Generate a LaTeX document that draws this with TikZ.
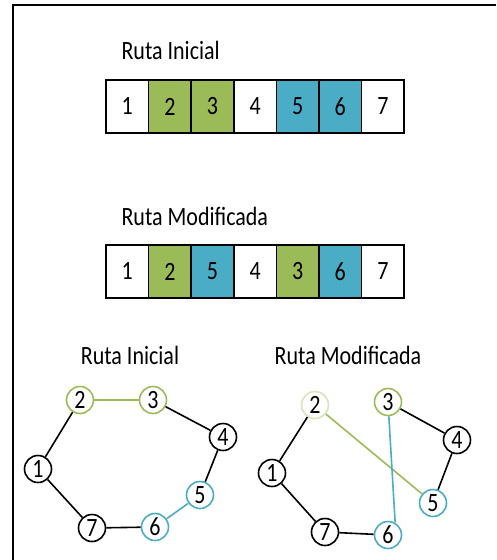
\documentclass[tikz,border=0pt]{standalone}
\usepackage{fontspec}
\setmainfont{Carlito}
\definecolor{rutagreen}{HTML}{9BBB59}
\definecolor{rutablue}{HTML}{4BACC6}
\definecolor{palegreen}{HTML}{D7E4BD}
\newcommand{\tall}[1]{\scalebox{1}[1.2]{#1}}

\begin{document}
\begin{tikzpicture}[x=1pt, y=-1pt,
					every node/.style = {
						font = \fontsize{22}{26}\selectfont,
					},
					cell/.style = {
						shape = rectangle,
						draw,
						line width = 1.6pt,
						minimum width = 42.6pt,
						minimum height = 53pt,
						inner sep = 0pt,
					},
					city/.style = {
						shape = circle,
						draw,
						line width = 1.6pt,
						minimum size = 27pt,
						inner sep = 0pt,
						fill = white,
					},
					leg/.style = {line width = 1.6pt},
			]
				\useasboundingbox (0, 0) rectangle (496, 560);
				\draw[line width = 2pt] (13, 560) -- (13, 5) -- (496, 5);

				% routes as strips
				\node (t1) [anchor = west] at (118, 50) {\tall{Ruta Inicial}};
				\foreach \n/\c [count = \i] in {1/white, 2/rutagreen, 3/rutagreen, 4/white, 5/rutablue, 6/rutablue, 7/white}
					\node (a\i) [cell, fill = \c] at (84.7 + 42.6*\i, 106.5) {\tall{\n}};

				\node (t2) [anchor = west] at (118, 216) {\tall{Ruta Modificada}};
				\foreach \n/\c [count = \i] in {1/white, 2/rutagreen, 5/rutablue, 4/white, 3/rutagreen, 6/rutablue, 7/white}
					\node (b\i) [cell, fill = \c] at (84.7 + 42.6*\i, 271.5) {\tall{\n}};

				% initial tour
				\node (t3) at (130, 355) {\tall{Ruta Inicial}};
				\draw (38, 469) node (p1) [city] {\tall{1}};
				\draw (80, 400) node (p2) [city, draw = rutagreen] {\tall{2}};
				\draw (153, 400) node (p3) [city, draw = rutagreen] {\tall{3}};
				\draw (223, 437) node (p4) [city] {\tall{4}};
				\draw (200, 495) node (p5) [city, draw = rutablue] {\tall{5}};
				\draw (155, 527) node (p6) [city, draw = rutablue] {\tall{6}};
				\draw (92, 528) node (p7) [city] {\tall{7}};

				\draw[leg] (p1) -- (p2);
				\draw[leg, rutagreen] (p2) -- (p3);
				\draw[leg] (p3) -- (p4);
				\draw[leg] (p4) -- (p5);
				\draw[leg, rutablue] (p5) -- (p6);
				\draw[leg] (p6) -- (p7);
				\draw[leg] (p7) -- (p1);

				% modified tour
				\node (t4) at (348, 355) {\tall{Ruta Modificada}};
				\draw (272, 473) node (q1) [city] {\tall{1}};
				\draw (315, 405) node (q2) [city, draw = palegreen] {\tall{2}};
				\draw (388, 402) node (q3) [city, draw = rutagreen] {\tall{3}};
				\draw (457, 440) node (q4) [city] {\tall{4}};
				\draw (433, 503) node (q5) [city, draw = rutablue] {\tall{5}};
				\draw (388, 535) node (q6) [city, draw = rutablue] {\tall{6}};
				\draw (325, 532) node (q7) [city] {\tall{7}};

				\draw[leg] (q1) -- (q2);
				\draw[leg, rutagreen] (q2) -- (q5);
				\draw[leg] (q5) -- (q4);
				\draw[leg] (q4) -- (q3);
				\draw[leg, rutablue] (q3) -- (q6.60);
				\draw[leg] (q6) -- (q7);
				\draw[leg] (q7) -- (q1);
			\end{tikzpicture}
\end{document}
